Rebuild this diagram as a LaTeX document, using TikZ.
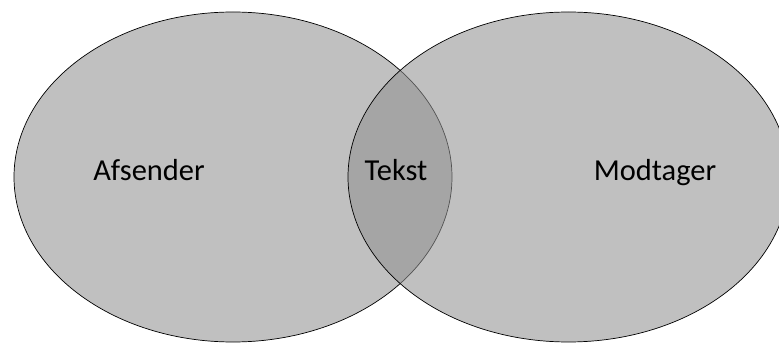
\documentclass[tikz,border=0pt]{standalone}
\usepackage{fontspec}
\setmainfont{Carlito}
\definecolor{setgray}{HTML}{C0C0C0}
\definecolor{overgray}{HTML}{919191}

\tikzset{
    setlabel/.style={font=\fontsize{26}{30}\selectfont, anchor=base, inner sep=0pt},
    setline/.style={line width=0.6pt}
}

\begin{document}
\begin{tikzpicture}[x=0.03cm, y=-0.03cm]
    \useasboundingbox (0,0) rectangle (779,344);
    \clip (0,0) rectangle (779,344);
    % sender set
    \draw [setline, fill=setgray] (233,177) ellipse [x radius=219, y radius=165];
    % receiver set, laid over it
    \draw [setline, fill=overgray, fill opacity=0.57] (568.5,177) ellipse [x radius=220.5, y radius=165];
    \node (A) [setlabel] at (149,180.5) {Afsender};
    \node (T) [setlabel] at (396,180.5) {Tekst};
    \node (M) [setlabel] at (655,180.5) {Modtager};
\end{tikzpicture}
\end{document}
